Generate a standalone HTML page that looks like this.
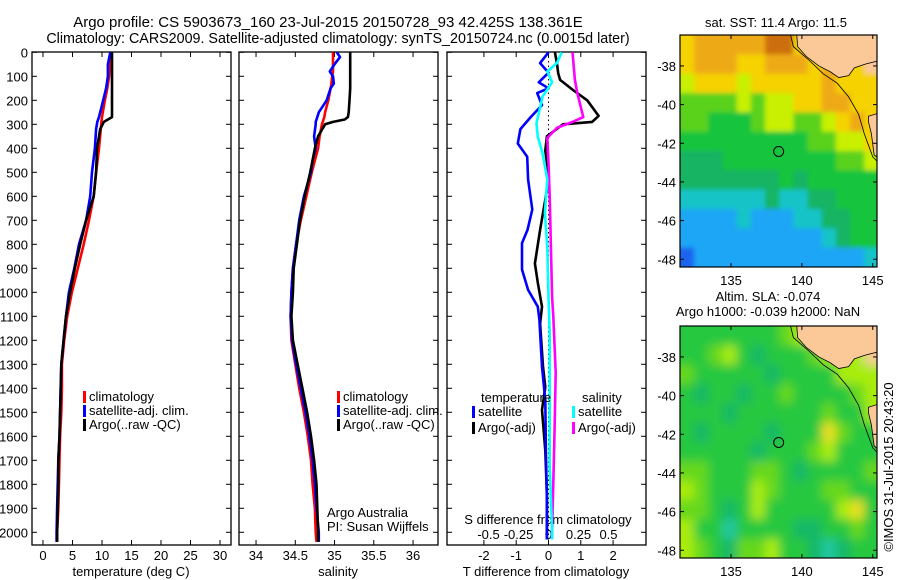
<!DOCTYPE html>
<html><head><meta charset="utf-8"><style>
html,body{margin:0;padding:0;background:#fff}
svg{display:block;font-family:"Liberation Sans",Arial,sans-serif}
</style></head><body>
<svg id="c" width="900" height="580" viewBox="0 0 900 580">
<defs>
<filter id="blurS" x="-10%" y="-10%" width="120%" height="120%"><feGaussianBlur stdDeviation="2.5"/></filter>
<filter id="blurL" x="-10%" y="-10%" width="120%" height="120%"><feGaussianBlur stdDeviation="5"/></filter>
</defs>
<text x="328" y="27" font-size="15" text-anchor="middle">Argo profile: CS 5903673_160 23-Jul-2015 20150728_93 42.425S 138.361E</text>
<text x="338" y="43" font-size="14.3" text-anchor="middle">Climatology: CARS2009. Satellite-adjusted climatology: synTS_20150724.nc (0.0015d later)</text>
<g id="g"></g>
</svg>
<script>
// ---- data (depth in dbar) ----
const tempDepths=[0,50,100,150,200,270,290,320,400,500,600,700,800,900,1000,1100,1200,1300,1400,1500,1600,1700,1800,1900,2000,2040];
const tempArgo=[11.7,11.7,11.7,11.7,11.7,11.7,10.3,9.7,9.15,9.0,8.6,7.3,6.3,5.4,4.6,3.9,3.5,3.1,3.0,2.9,2.8,2.6,2.6,2.5,2.4,2.4];
const tempClim=[11.5,11.4,11.2,10.9,10.5,10.0,9.9,9.8,9.5,9.0,8.6,7.8,6.9,5.9,4.9,4.1,3.6,3.2,3.2,3.1,2.9,2.8,2.7,2.6,2.4,2.4];
const tempSat=[11.4,11.0,11.0,10.7,10.2,9.5,9.2,9.0,8.8,8.3,8.0,7.3,6.1,5.3,4.4,3.9,3.5,3.1,3.0,2.9,2.8,2.6,2.5,2.4,2.3,2.3];
const salDepths=[0,20,50,80,100,130,150,200,250,270,280,290,300,350,400,450,500,600,700,800,900,1000,1100,1200,1300,1400,1500,1600,1700,1800,1900,2000,2040];
const salArgo=[35.2,35.2,35.2,35.2,35.2,35.2,35.2,35.19,35.18,35.17,35.13,34.98,34.88,34.79,34.75,34.72,34.69,34.62,34.56,34.52,34.48,34.47,34.45,34.47,34.53,34.59,34.65,34.70,34.74,34.77,34.78,34.79,34.79];
const salClim=[34.98,34.98,34.98,34.98,34.97,34.96,34.95,34.92,34.88,34.87,34.86,34.85,34.84,34.81,34.79,34.75,34.71,34.64,34.57,34.51,34.47,34.45,34.44,34.45,34.5,34.55,34.61,34.66,34.70,34.72,34.75,34.76,34.77];
const salSat=[35.03,35.07,35.0,34.94,34.98,34.99,34.95,34.9,34.8,34.78,34.77,34.76,34.76,34.74,34.76,34.72,34.70,34.61,34.55,34.51,34.47,34.45,34.44,34.46,34.51,34.57,34.63,34.68,34.72,34.75,34.77,34.80,34.80];
const dTSatDepths=[0,45,85,125,150,170,220,270,320,380,435,530,655,740,795,905,990,1060,1115,1310,1450,1660,1865,1990,2030];
const dTSat=[0,-0.26,0,-0.3,0,-0.35,-0.2,-0.55,-0.87,-0.95,-0.66,-0.63,-0.5,-0.65,-0.82,-0.82,-0.63,-0.33,-0.28,-0.2,-0.1,-0.08,-0.05,-0.05,-0.05];
const dTArgoDepths=[0,45,87,115,157,200,265,290,300,350,410,505,575,740,880,960,1060,1130,1310,1395,1490,1660,1840,1990,2030];
const dTArgo=[0.2,0.26,0.3,0.36,0.76,1.2,1.55,1.35,0.45,-0.05,-0.1,0,-0.05,-0.26,-0.42,-0.33,-0.2,-0.26,-0.17,-0.1,-0.2,-0.1,-0.05,-0.05,-0.05];
const dSSatDepths=[0,45,80,125,185,230,295,350,420,530,670,810,1020,1170,1725,1990,2030];
const dSSat=[0.11,0.07,-0.01,0.03,-0.05,-0.07,-0.1,-0.09,-0.05,-0.01,-0.03,-0.01,0,0.01,0.01,0.03,0.03];
const dSArgoDepths=[0,115,170,250,270,290,315,357,460,600,1020,1100,1335,1585,1795,1990,2030];
const dSArgo=[0.2,0.22,0.24,0.28,0.29,0.2,0.07,-0.01,0,0.01,0.03,0.04,0.06,0.05,0.04,0.03,0.03];
const depthTicks=[0,100,200,300,400,500,600,700,800,900,1000,1100,1200,1300,1400,1500,1600,1700,1800,1900,2000];
const tempTicks=[0,5,10,15,20,25,30];
const salTicks=[34,34.5,35,35.5,36];
const salTickLabels=["34","34.5","35","35.5","36"];
const dTTicks=[-2,-1,0,1,2];
const dSTicks=[-0.5,-0.25,0,0.25,0.5];
const dSTickLabels=["-0.5","-0.25","0","0.25","0.5"];
const sstGrid=[
[8,9,9,9,9,9,10,10,8,-1,-1,-1,-1,-1],
[8,9,9,9,8,8,9,9,9,8,9,8,8,-1],
[7,8,8,8,7,8,8,8,8,8,9,8,8,8],
[6,6,6,6,7,6,7,7,8,8,9,9,8,8],
[6,6,5,5,5,6,7,7,6,6,7,8,9,8],
[5,5,5,5,5,5,5,5,5,6,6,7,7,8],
[4,4,4,5,5,5,5,5,5,5,5,6,6,7],
[4,4,4,4,4,4,4,5,4,5,5,5,5,5],
[3,3,3,3,3,3,4,3,3,4,4,5,5,5],
[2,2,2,2,3,2,2,2,3,3,4,4,5,5],
[2,2,2,2,2,2,2,2,2,2,3,4,5,5],
[1,2,2,2,2,2,2,2,2,2,2,2,2,3]];
const slaGrid=[
[5,5,5,5,5,5,5,6,7,-1,-1,-1,-1,-1],
[5,5,6,7,5,4,5,5,5,6,7,7,7,-1],
[6,5,5,5,5,5,4,5,5,5,5,7,7,7],
[5,4,5,5,4,5,5,6,5,5,5,5,6,7],
[5,5,5,4,5,5,5,5,5,5,6,5,5,7],
[5,4,5,5,5,5,4,5,5,5,8,6,5,5],
[5,5,5,5,5,4,5,5,5,6,7,5,5,5],
[6,6,5,5,5,6,6,5,4,5,5,5,5,6],
[7,6,5,5,5,7,6,5,5,5,6,6,5,5],
[6,6,5,4,5,7,5,5,5,5,5,7,8,5],
[7,5,5,3,5,5,5,5,4,4,5,5,6,5],
[7,6,5,4,6,6,7,5,5,4,3,4,5,5]];
const lonTicks=[135,140,145];
const latTicks=[-38,-40,-42,-44,-46,-48];
const argoLon=138.361, argoLat=-42.425;

const NS="http://www.w3.org/2000/svg";
const G=document.getElementById('g');
function el(tag,at,parent){const e=document.createElementNS(NS,tag);for(const k in at)e.setAttribute(k,at[k]);(parent||G).appendChild(e);return e;}
const yTop=52.3, pxPerDbar=0.24, yBot=545;
const yD=d=>yTop+pxPerDbar*d;
function lin(lo,hi,x0,x1){return v=>x0+(v-lo)/(hi-lo)*(x1-x0);}
const P=[{x0:32,x1:231},{x0:239,x1:438},{x0:447,x1:646}];
const xT=lin(-1.86,31.86,32,231);
const xS=lin(33.783,36.318,239,438);
const xdT=lin(-3.142,3.019,447,646);
const xdS=lin(-0.846,0.8125,447,646);

P.forEach((p,i)=>{
  const r=el('rect',{x:p.x0,y:52,width:p.x1-p.x0,height:yBot-52,fill:'none',stroke:'#000','stroke-width':1.3});
  
  
  depthTicks.forEach(d=>{
    const y=yD(d);
    el('line',{x1:p.x0,y1:y,x2:p.x0+5,y2:y,stroke:'#000'});
    el('line',{x1:p.x1,y1:y,x2:p.x1-5,y2:y,stroke:'#000'});
  });
});
depthTicks.forEach(d=>{
  const t=el('text',{x:28,y:yD(d)+5,'font-size':13,'text-anchor':'end'});
  t.textContent=d;
  
  
});
function xTicks(vals,labels,fx,p,ly){
  vals.forEach((v,i)=>{
    const x=fx(v);
    el('line',{x1:x,y1:52,x2:x,y2:57,stroke:'#000'});
    el('line',{x1:x,y1:yBot,x2:x,y2:yBot-5,stroke:'#000'});
    if(labels){const t=el('text',{x:x,y:ly,'font-size':13,'text-anchor':'middle'});
      t.textContent=labels[i];
      
      }
  });
}
xTicks(tempTicks,tempTicks.map(String),xT,P[0],560);
xTicks(salTicks,salTickLabels,xS,P[1],560);
xTicks(dTTicks,dTTicks.map(String),xdT,P[2],560);
dSTicks.forEach((v,i)=>{const t=el('text',{x:xdS(v),y:539,'font-size':13,'text-anchor':'middle'});
  t.textContent=dSTickLabels[i];
  
  });
function label(x,y,s,name,anchor,size){const t=el('text',{x:x,y:y,'font-size':size||13,'text-anchor':anchor||'middle'});t.textContent=s;
  
  return t;}
label(131,576,'temperature (deg C)','x-axis-title-temperature');
label(338,576,'salinity','x-axis-title-salinity');
label(546,576,'T difference from climatology','x-axis-title-t-diff');
label(548,524,'S difference from climatology','s-diff-axis-title');
el('line',{x1:xdT(0),y1:52,x2:xdT(0),y2:yBot,stroke:'#000','stroke-dasharray':'1.5,3','stroke-width':1});

function series(fx,depths,vals,col,name){
  const pts=depths.map((d,i)=>fx(vals[i]).toFixed(1)+','+yD(d).toFixed(1)).join(' ');
  const l=el('polyline',{points:pts,fill:'none',stroke:col,'stroke-width':2.6,'stroke-linejoin':'round'});
  
  
}
series(xT,tempDepths,tempClim,'#f00','temp-climatology-line');
series(xT,tempDepths,tempSat,'#00f','temp-satellite-line');
series(xT,tempDepths,tempArgo,'#000','temp-argo-line');
series(xS,salDepths,salClim,'#f00','sal-climatology-line');
series(xS,salDepths,salSat,'#00f','sal-satellite-line');
series(xS,salDepths,salArgo,'#000','sal-argo-line');
series(xdT,dTArgoDepths,dTArgo,'#000','tdiff-argo-line');
series(xdS,dSArgoDepths,dSArgo,'#f0f','sdiff-argo-line');
series(xdT,dTSatDepths,dTSat,'#00f','tdiff-satellite-line');
series(xdS,dSSatDepths,dSSat,'#0ff','sdiff-satellite-line');

function legItem(x,y,col,s,name){el('rect',{x:x-3,y:y-10,width:3,height:12,fill:col});label(x+3,y,s,name,'start',13);}
legItem(86,401,'#f00','climatology','legend-climatology');
legItem(86,415,'#00f','satellite-adj. clim.','legend-satellite');
legItem(86,429,'#000','Argo(..raw -QC)','legend-argo');
legItem(340,401,'#f00','climatology','legend-climatology-2');
legItem(340,415,'#00f','satellite-adj. clim.','legend-satellite-2');
legItem(340,429,'#000','Argo(..raw -QC)','legend-argo-2');
label(327,517,'Argo Australia','credit-argo-australia','start');
label(327,531,'PI: Susan Wijffels','credit-pi','start');
label(481,402,'temperature','legend-temperature-heading','start');
legItem(475,416,'#00f','satellite','legend-t-satellite');
legItem(475,432,'#000','Argo(-adj)','legend-t-argo');
label(582,402,'salinity','legend-salinity-heading','start');
legItem(575,416,'#0ff','satellite','legend-s-satellite');
legItem(575,432,'#f0f','Argo(-adj)','legend-s-argo');

const sstColors={1:'#1a64ee',2:'#1ea6f5',3:'#14c4c8',4:'#18b464',5:'#12c43c',6:'#5ad21a',7:'#c8f000',8:'#f5d200',9:'#eeaa14',10:'#cc6e0a'};
const slaColors={3:'#20c8a0',4:'#18b868',5:'#28c840',6:'#66d81c',7:'#a8ec10',8:'#e8e020'};
const LAND='#fbc898';
function drawMap(grid,colors,top,name,blur){
  const mx0=680,mx1=877,my0=top,my1=top+232;
  const xL=lin(131.4,145.3,mx0,mx1), yL=lin(-36.4,-48.4,my0,my1);
  const clipId='clip'+name;
  const cp=el('clipPath',{id:clipId});el('rect',{x:mx0,y:my0,width:mx1-mx0,height:my1-my0},cp);
  const g=el('g',{'clip-path':'url(#'+clipId+')'});
  
  
  const inner=el('g',{filter:'url(#'+blur+')'},g);
  const nr=grid.length, nc=grid[0].length;
  grid.forEach((row,r)=>row.forEach((v,c)=>{
    let x=xL(131.4+c),y=yL(-36.4-r),x2=xL(132.4+c)+0.5,y2=yL(-37.4-r)+0.5;
    if(c===0)x-=15; if(r===0)y-=15; if(c===nc-1)x2+=15; if(r===nr-1)y2+=15;
    el('rect',{x:x,y:y,width:x2-x,height:y2-y,fill:v<0?LAND:colors[v]},inner);
  }));
  const land=[[139.6,-36.0],[139.7,-37.0],[140.3,-37.5],[141.2,-38.0],[142.0,-38.3],[142.6,-38.6],[143.3,-38.5],[143.7,-38.1],[144.5,-37.9],[145.6,-37.7],[145.6,-36.0]];
  el('polygon',{points:land.map(p=>xL(p[0])+','+yL(p[1])).join(' '),fill:LAND,stroke:'#000','stroke-width':0.8},g);
  const tas=[[144.7,-40.6],[145.6,-40.4],[145.6,-42.9],[145.1,-42.6],[144.9,-41.5],[144.7,-40.9]];
  el('polygon',{points:tas.map(p=>xL(p[0])+','+yL(p[1])).join(' '),fill:LAND,stroke:'#000','stroke-width':0.8},g);
  const iso=[[139.2,-36.4],[139.4,-37.0],[140.5,-37.7],[141.5,-38.4],[142.5,-38.9],[143.3,-39.6],[144.0,-40.5],[144.4,-41.5],[145.0,-42.7],[145.4,-43.0]];
  el('polyline',{points:iso.map(p=>xL(p[0])+','+yL(p[1])).join(' '),fill:'none',stroke:'#000','stroke-width':0.8},g);
  el('rect',{x:mx0,y:my0,width:mx1-mx0,height:my1-my0,fill:'none',stroke:'#000','stroke-width':1.2});
  const m=el('circle',{cx:xL(argoLon),cy:yL(argoLat),r:5,fill:'none',stroke:'#000','stroke-width':1});
  
  
  lonTicks.forEach(v=>{const x=xL(v);
    el('line',{x1:x,y1:my0,x2:x,y2:my0+4,stroke:'#000'});el('line',{x1:x,y1:my1,x2:x,y2:my1-4,stroke:'#000'});
    label(x,my1+18,String(v),'lon-tick-label');});
  latTicks.forEach(v=>{const y=yL(v);
    el('line',{x1:mx0,y1:y,x2:mx0+4,y2:y,stroke:'#000'});el('line',{x1:mx1,y1:y,x2:mx1-4,y2:y,stroke:'#000'});
    label(676,y+5,String(v),'lat-tick-label','end');});
}
drawMap(sstGrid,sstColors,35,'sst-map','blurS');
drawMap(slaGrid,slaColors,326,'sla-map','blurL');
label(776,27,'sat. SST: 11.4  Argo: 11.5','sst-map-title');
label(768,301,'Altim. SLA: -0.074','sla-map-title');
label(768,316,'Argo h1000: -0.039 h2000: NaN','sla-map-subtitle');
const cr=label(0,0,'\u00a9IMOS 31-Jul-2015 20:43:20','copyright-stamp');
cr.setAttribute('transform','translate(893,467) rotate(-90)');
</script>
</body></html>
